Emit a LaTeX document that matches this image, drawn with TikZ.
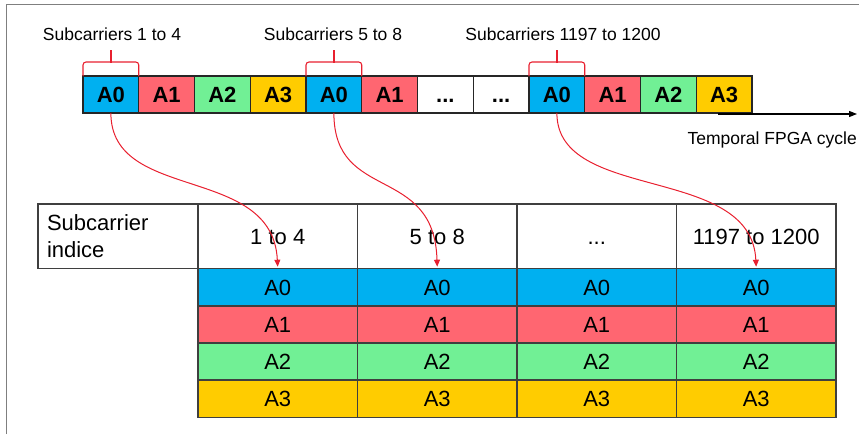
\documentclass[tikz,border=0pt]{standalone}
\usepackage{fontspec}
\setmainfont{Liberation Sans}
\usetikzlibrary{arrows.meta}
\definecolor{cA0}{HTML}{00B0F0}
\definecolor{cA1}{HTML}{FF6671}
\definecolor{cA2}{HTML}{71F095}
\definecolor{cA3}{HTML}{FFCC00}
\definecolor{redln}{HTML}{E8202F}
\definecolor{framecol}{HTML}{7F7F7F}
\definecolor{tline}{HTML}{3F3F3F}
\begin{document}
\begin{tikzpicture}[x=1pt,y=-1pt,
  barcell/.style={draw=black!85, line width=1.1pt, minimum width=55.75pt, minimum height=37pt,
    inner sep=0pt, outer sep=0pt, font=\fontsize{22}{26}\selectfont\bfseries, text height=16pt, text depth=0pt},
  tcell/.style={draw=tline, line width=1.4pt, minimum width=159.5pt, minimum height=37.15pt,
    inner sep=0pt, outer sep=0pt, font=\fontsize{22}{26}\selectfont, text height=16pt, text depth=0pt},
  hcell/.style={tcell, minimum height=64.7pt, fill=white},
  lbl/.style={font=\fontsize{17.5}{21}\selectfont, inner sep=0pt, anchor=base},
  bracestyle/.style={redln, line width=1.1pt, rounded corners=3pt},
  ticklinestyle/.style={redln, line width=1.3pt},
  curvearrow/.style={redln, line width=1pt, shorten >=2pt, -{Triangle[length=7pt,width=6pt]}},
  timearrow/.style={black, line width=1.2pt, -{Triangle[length=8pt,width=6pt]}}
]
\useasboundingbox (0,0) rectangle (859,434);
% frame
\draw[framecol, line width=1.5pt] (6.7,434) -- (6.7,4.7) -- (859,4.7);

% top bar
\node[barcell, fill=cA0] (b0) at (110.875,94.5) {A0};
\node[barcell, fill=cA1] (b1) at (166.625,94.5) {A1};
\node[barcell, fill=cA2] (b2) at (222.375,94.5) {A2};
\node[barcell, fill=cA3] (b3) at (278.125,94.5) {A3};
\node[barcell, fill=cA0] (b4) at (333.875,94.5) {A0};
\node[barcell, fill=cA1] (b5) at (389.625,94.5) {A1};
\node[barcell, fill=white] (b6) at (445.375,94.5) {...};
\node[barcell, fill=white] (b7) at (501.125,94.5) {...};
\node[barcell, fill=cA0] (b8) at (556.875,94.5) {A0};
\node[barcell, fill=cA1] (b9) at (612.625,94.5) {A1};
\node[barcell, fill=cA2] (b10) at (668.375,94.5) {A2};
\node[barcell, fill=cA3] (b11) at (724.125,94.5) {A3};

% time axis
\coordinate (tstart) at (718,114);
\coordinate (tend) at (857,114);
\draw[timearrow] (tstart) -- (tend);
\node[lbl, anchor=base east] (tlab) at (857,144.5) {Temporal FPGA cycle};

% braces
\draw[bracestyle] (83,76) |- (110.875,62) -| (138.75,76);
\draw[bracestyle] (306,76) |- (333.875,62) -| (361.75,76);
\draw[bracestyle] (529,76) |- (556.875,62) -| (584.75,76);
\draw[ticklinestyle] (110.875,62.5) -- (110.875,49.5);
\draw[ticklinestyle] (333.875,62.5) -- (333.875,49.5);
\draw[ticklinestyle] (556.875,62.5) -- (556.875,49.5);

\node[lbl] (s1) at (112,40.7) {Subcarriers 1 to 4};
\node[lbl] (s2) at (333,40.7) {Subcarriers 5 to 8};
\node[lbl] (s3) at (563,40.7) {Subcarriers 1197 to 1200};

% table header
\node[hcell, minimum width=160pt, text width=142pt, inner xsep=9pt, align=left,
      text height=, text depth=, font=\fontsize{22}{26.7}\selectfont] (h0) at (118,236.35) {Subcarrier\\indice};
\node[hcell] (h1) at (277.75,236.35) {1 to 4};
\node[hcell] (h2) at (437.25,236.35) {5 to 8};
\node[hcell] (h3) at (596.75,236.35) {...};
\node[hcell] (h4) at (756.25,236.35) {1197 to 1200};

% table rows
\foreach \x [count=\j] in {277.75,437.25,596.75,756.25}{
  \node[tcell, fill=cA0] (r1c\j) at (\x,287.275) {A0};
  \node[tcell, fill=cA1] (r2c\j) at (\x,324.425) {A1};
  \node[tcell, fill=cA2] (r3c\j) at (\x,361.575) {A2};
  \node[tcell, fill=cA3] (r4c\j) at (\x,398.725) {A3};
}

% curved arrows
\draw[curvearrow] (b0.south) .. controls +(0,90) and +(-5,-105) .. (r1c1.north);
\draw[curvearrow] (b4.south) .. controls +(0,90) and +(-3,-105) .. (r1c2.north);
\draw[curvearrow] (b8.south) .. controls +(0,90) and +(-5,-105) .. (r1c4.north);
\end{tikzpicture}
\end{document}
